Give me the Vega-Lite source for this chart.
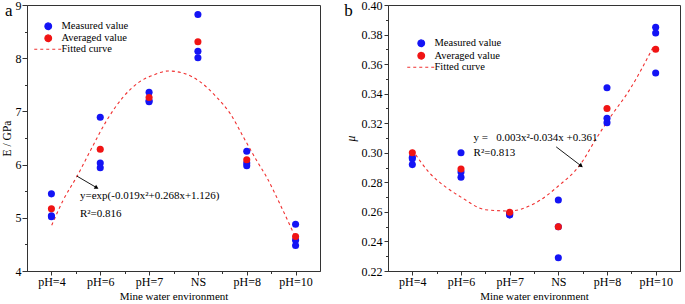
{
  "$schema": "https://vega.github.io/schema/vega-lite/v6.json",
  "padding": {"left": 0, "top": -2, "right": 0, "bottom": 0},
  "background": "white",
  "config": {
    "font": "Liberation Serif",
    "view": {"stroke": "#333", "strokeWidth": 1},
    "axis": {
      "grid": false, "domainColor": "#333", "tickColor": "#333", "labelOverlap": false,
      "labelFont": "Liberation Serif", "labelFontSize": 12, "labelColor": "#000",
      "titleFont": "Liberation Serif", "titleFontSize": 11.5, "titleFontWeight": "normal", "titleColor": "#000"
    },
    "legend": {"labelFont": "Liberation Serif", "labelFontSize": 10.5, "labelColor": "#000"},
    "concat": {"spacing": 22}
  },
  "datasets": {
    "pointsA": [
      {"x": 1, "series": "Measured value", "value": 5.45},
      {"x": 1, "series": "Measured value", "value": 5.04},
      {"x": 1, "series": "Measured value", "value": 5.02},
      {"x": 2, "series": "Measured value", "value": 6.89},
      {"x": 2, "series": "Measured value", "value": 6.03},
      {"x": 2, "series": "Measured value", "value": 5.94},
      {"x": 3, "series": "Measured value", "value": 7.36},
      {"x": 3, "series": "Measured value", "value": 7.2},
      {"x": 3, "series": "Measured value", "value": 7.18},
      {"x": 4, "series": "Measured value", "value": 8.82},
      {"x": 4, "series": "Measured value", "value": 8.13},
      {"x": 4, "series": "Measured value", "value": 8.01},
      {"x": 5, "series": "Measured value", "value": 6.25},
      {"x": 5, "series": "Measured value", "value": 6.03},
      {"x": 5, "series": "Measured value", "value": 5.98},
      {"x": 6, "series": "Measured value", "value": 4.88},
      {"x": 6, "series": "Measured value", "value": 4.58},
      {"x": 6, "series": "Measured value", "value": 4.48},
      {"x": 1, "series": "Averaged value", "value": 5.17},
      {"x": 2, "series": "Averaged value", "value": 6.29},
      {"x": 3, "series": "Averaged value", "value": 7.26},
      {"x": 4, "series": "Averaged value", "value": 8.31},
      {"x": 5, "series": "Averaged value", "value": 6.09},
      {"x": 6, "series": "Averaged value", "value": 4.65}
    ],
    "curveA": [
      {"x": 1.006, "value": 4.86}, {"x": 1.24, "value": 5.33}, {"x": 1.518, "value": 5.77},
      {"x": 1.825, "value": 6.31}, {"x": 2.132, "value": 6.83}, {"x": 2.47, "value": 7.27},
      {"x": 2.81, "value": 7.56}, {"x": 3.08, "value": 7.68}, {"x": 3.39, "value": 7.76},
      {"x": 3.7, "value": 7.72}, {"x": 4.04, "value": 7.56}, {"x": 4.38, "value": 7.27},
      {"x": 4.66, "value": 6.96}, {"x": 4.93, "value": 6.52}, {"x": 5.2, "value": 6.08},
      {"x": 5.41, "value": 5.76}, {"x": 5.71, "value": 5.2}, {"x": 5.99, "value": 4.65}
    ],
    "textA": [
      {"x": 1.585, "y": 5.41, "text": "y=exp(-0.019x²+0.268x+1.126)", "size": "eq"},
      {"x": 1.585, "y": 5.07, "text": "R²=0.816", "size": "eq"},
      {"x": 0.05, "y": 8.88, "text": "a", "size": "panel"}
    ],
    "arrowA": [{"x": 1.518, "y": 5.786, "x2": 1.927, "y2": 5.566, "angle": 30}],
    "pointsB": [
      {"x": 1, "series": "Measured value", "value": 0.297},
      {"x": 1, "series": "Measured value", "value": 0.296},
      {"x": 1, "series": "Measured value", "value": 0.292},
      {"x": 2, "series": "Measured value", "value": 0.3},
      {"x": 2, "series": "Measured value", "value": 0.287},
      {"x": 2, "series": "Measured value", "value": 0.2835},
      {"x": 3, "series": "Measured value", "value": 0.258},
      {"x": 3, "series": "Measured value", "value": 0.258},
      {"x": 3, "series": "Measured value", "value": 0.259},
      {"x": 4, "series": "Measured value", "value": 0.268},
      {"x": 4, "series": "Measured value", "value": 0.25},
      {"x": 4, "series": "Measured value", "value": 0.229},
      {"x": 5, "series": "Measured value", "value": 0.344},
      {"x": 5, "series": "Measured value", "value": 0.3233},
      {"x": 5, "series": "Measured value", "value": 0.3204},
      {"x": 6, "series": "Measured value", "value": 0.385},
      {"x": 6, "series": "Measured value", "value": 0.381},
      {"x": 6, "series": "Measured value", "value": 0.354},
      {"x": 1, "series": "Averaged value", "value": 0.3},
      {"x": 2, "series": "Averaged value", "value": 0.289},
      {"x": 3, "series": "Averaged value", "value": 0.2598},
      {"x": 4, "series": "Averaged value", "value": 0.25},
      {"x": 5, "series": "Averaged value", "value": 0.33},
      {"x": 6, "series": "Averaged value", "value": 0.37}
    ],
    "curveB": [
      {"x": 1.0, "value": 0.302}, {"x": 1.35, "value": 0.2865}, {"x": 1.7, "value": 0.2765},
      {"x": 2.0, "value": 0.27}, {"x": 2.5, "value": 0.2615}, {"x": 3.0, "value": 0.2606},
      {"x": 3.5, "value": 0.2655}, {"x": 4.0, "value": 0.2775}, {"x": 4.45, "value": 0.292},
      {"x": 4.78, "value": 0.3097}, {"x": 5.05, "value": 0.3233}, {"x": 5.46, "value": 0.3424},
      {"x": 5.97, "value": 0.3729}
    ],
    "textB": [
      {"x": 2.258, "y": 0.3101, "text": "y =\u00a0\u00a0 0.003x²-0.034x +0.361", "size": "eq"},
      {"x": 2.258, "y": 0.2999, "text": "R²=0.813", "size": "eq"},
      {"x": -0.397, "y": 0.3962, "text": "b", "size": "panel"}
    ],
    "arrowB": [{"x": 3.956, "y": 0.304, "x2": 4.469, "y2": 0.2911, "angle": 37}]
  },
  "resolve": {"scale": {"color": "independent"}, "legend": {"color": "independent"}},
  "hconcat": [
    {
      "width": 293,
      "height": 266,
      "encoding": {
        "x": {"type": "quantitative", "scale": {"domain": [0.5, 6.5], "nice": false},
          "axis": {"values": [1, 1.5, 2, 2.5, 3, 3.5, 4, 4.5, 5, 5.5, 6], "labelOverlap": false,
            "labelExpr": "datum.value % 1 !== 0 ? '' : ['pH=4','pH=6','pH=7','NS','pH=8','pH=10'][datum.value - 1]",
            "tickSize": {"condition": {"test": "datum.value % 1 !== 0", "value": 2.5}, "value": 4},
            "labelPadding": 1, "title": "Mine water environment", "titleFontSize": 11, "titlePadding": 3}},
        "y": {"type": "quantitative", "scale": {"domain": [4, 9], "nice": false, "zero": false},
          "axis": {"values": [4, 4.5, 5, 5.5, 6, 6.5, 7, 7.5, 8, 8.5, 9], "labelOverlap": false,
            "labelExpr": "datum.value % 1 !== 0 ? '' : format(datum.value, '.0f')",
            "tickSize": {"condition": {"test": "datum.value % 1 !== 0", "value": 2.5}, "value": 5},
            "labelPadding": 1, "title": "E / GPa", "titlePadding": 3}}
      },
      "layer": [
        {
          "data": {"name": "curveA"},
          "mark": {"type": "line", "interpolate": "monotone", "strokeDash": [3, 3], "strokeWidth": 1.1},
          "encoding": {
            "x": {"field": "x"},
            "y": {"field": "value"},
            "color": {"datum": "Fitted curve", "type": "nominal",
              "scale": {"domain": ["Measured value", "Averaged value", "Fitted curve"], "range": ["#1414f5", "#f01414", "#f03030"]},
              "legend": {
                "orient": "none", "legendX": 16, "legendY": 16, "title": null, "padding": 0,
                "labelFont": "Liberation Serif", "labelFontSize": 10.5, "labelColor": "#000",
                "symbolSize": 784, "labelOffset": 8, "rowPadding": 0,
                "encode": {"symbols": {"update": {
                  "shape": {"signal": "datum.value === 'Fitted curve' ? 'stroke' : 'circle'"},
                  "size": {"signal": "datum.value === 'Fitted curve' ? 784 : 45"},
                  "fill": {"signal": "datum.value === 'Fitted curve' ? 'transparent' : (datum.value === 'Measured value' ? '#1414f5' : '#f01414')"},
                  "stroke": {"signal": "datum.value === 'Fitted curve' ? '#f03030' : 'transparent'"},
                  "strokeDash": {"signal": "datum.value === 'Fitted curve' ? [3, 3] : [1, 0]"},
                  "strokeWidth": {"value": 1.1},
                  "opacity": {"value": 1}
                }}}
              }}
          }
        },
        {
          "data": {"name": "pointsA"},
          "mark": {"type": "point", "filled": true, "size": 50, "opacity": 1},
          "encoding": {
            "x": {"field": "x"},
            "y": {"field": "value"},
            "color": {"field": "series", "type": "nominal",
              "legend": {
                "orient": "none", "legendX": 16, "legendY": 16, "title": null, "padding": 0,
                "labelFont": "Liberation Serif", "labelFontSize": 10.5, "labelColor": "#000",
                "symbolSize": 784, "labelOffset": 8, "rowPadding": 0,
                "encode": {"symbols": {"update": {
                  "shape": {"signal": "datum.value === 'Fitted curve' ? 'stroke' : 'circle'"},
                  "size": {"signal": "datum.value === 'Fitted curve' ? 784 : 45"},
                  "fill": {"signal": "datum.value === 'Fitted curve' ? 'transparent' : (datum.value === 'Measured value' ? '#1414f5' : '#f01414')"},
                  "stroke": {"signal": "datum.value === 'Fitted curve' ? '#f03030' : 'transparent'"},
                  "strokeDash": {"signal": "datum.value === 'Fitted curve' ? [3, 3] : [1, 0]"},
                  "strokeWidth": {"value": 1.1},
                  "opacity": {"value": 1}
                }}}
              }}
          }
        },
        {
          "data": {"name": "arrowA"},
          "mark": {"type": "rule", "color": "#000", "strokeWidth": 0.9},
          "encoding": {
            "x": {"field": "x"}, "y": {"field": "y"},
            "x2": {"field": "x2"}, "y2": {"field": "y2"}
          }
        },
        {
          "data": {"name": "arrowA"},
          "mark": {"type": "point", "shape": "triangle-right", "filled": true, "color": "#000", "size": 22, "opacity": 1},
          "encoding": {
            "x": {"field": "x2"}, "y": {"field": "y2"},
            "angle": {"field": "angle", "type": "quantitative", "scale": null}
          }
        },
        {
          "data": {"name": "textA"},
          "mark": {"type": "text", "align": "left", "baseline": "middle", "font": "Liberation Serif", "color": "#000"},
          "encoding": {
            "x": {"field": "x"}, "y": {"field": "y"},
            "text": {"field": "text"},
            "size": {"field": "size", "type": "nominal", "scale": {"domain": ["eq", "panel"], "range": [11, 17]}, "legend": null}
          }
        }
      ]
    },
    {
      "width": 292,
      "height": 266,
      "encoding": {
        "x": {"type": "quantitative", "scale": {"domain": [0.5, 6.5], "nice": false},
          "axis": {"values": [1, 1.5, 2, 2.5, 3, 3.5, 4, 4.5, 5, 5.5, 6], "labelOverlap": false,
            "labelExpr": "datum.value % 1 !== 0 ? '' : ['pH=4','pH=6','pH=7','NS','pH=8','pH=10'][datum.value - 1]",
            "tickSize": {"condition": {"test": "datum.value % 1 !== 0", "value": 2.5}, "value": 4},
            "labelPadding": 1, "title": "Mine water environment", "titleFontSize": 11, "titlePadding": 3}},
        "y": {"type": "quantitative", "scale": {"domain": [0.22, 0.4], "nice": false, "zero": false},
          "axis": {"values": [0.22, 0.23, 0.24, 0.25, 0.26, 0.27, 0.28, 0.29, 0.3, 0.31, 0.32, 0.33, 0.34, 0.35, 0.36, 0.37, 0.38, 0.39, 0.4],
            "labelOverlap": false, "labelBound": false, "labelSeparation": 0,
            "labelExpr": "round(datum.value * 100) % 2 === 1 ? '' : format(datum.value, '.2f')",
            "tickSize": {"condition": {"test": "round(datum.value * 100) % 2 === 1", "value": 2.5}, "value": 4},
            "labelPadding": 2, "title": "μ", "titleFontStyle": "italic", "titlePadding": 5}}
      },
      "layer": [
        {
          "data": {"name": "curveB"},
          "mark": {"type": "line", "interpolate": "monotone", "strokeDash": [3, 3], "strokeWidth": 1.1},
          "encoding": {
            "x": {"field": "x"},
            "y": {"field": "value"},
            "color": {"datum": "Fitted curve", "type": "nominal",
              "scale": {"domain": ["Measured value", "Averaged value", "Fitted curve"], "range": ["#1414f5", "#f01414", "#f03030"]},
              "legend": {
                "orient": "none", "legendX": 28, "legendY": 33, "title": null, "padding": 0,
                "labelFont": "Liberation Serif", "labelFontSize": 10.5, "labelColor": "#000",
                "symbolSize": 784, "labelOffset": 8, "rowPadding": 0.5,
                "encode": {"symbols": {"update": {
                  "shape": {"signal": "datum.value === 'Fitted curve' ? 'stroke' : 'circle'"},
                  "size": {"signal": "datum.value === 'Fitted curve' ? 784 : 45"},
                  "fill": {"signal": "datum.value === 'Fitted curve' ? 'transparent' : (datum.value === 'Measured value' ? '#1414f5' : '#f01414')"},
                  "stroke": {"signal": "datum.value === 'Fitted curve' ? '#f03030' : 'transparent'"},
                  "strokeDash": {"signal": "datum.value === 'Fitted curve' ? [3, 3] : [1, 0]"},
                  "strokeWidth": {"value": 1.1},
                  "opacity": {"value": 1}
                }}}
              }}
          }
        },
        {
          "data": {"name": "pointsB"},
          "mark": {"type": "point", "filled": true, "size": 50, "opacity": 1},
          "encoding": {
            "x": {"field": "x"},
            "y": {"field": "value"},
            "color": {"field": "series", "type": "nominal",
              "legend": {
                "orient": "none", "legendX": 28, "legendY": 33, "title": null, "padding": 0,
                "labelFont": "Liberation Serif", "labelFontSize": 10.5, "labelColor": "#000",
                "symbolSize": 784, "labelOffset": 8, "rowPadding": 0.5,
                "encode": {"symbols": {"update": {
                  "shape": {"signal": "datum.value === 'Fitted curve' ? 'stroke' : 'circle'"},
                  "size": {"signal": "datum.value === 'Fitted curve' ? 784 : 45"},
                  "fill": {"signal": "datum.value === 'Fitted curve' ? 'transparent' : (datum.value === 'Measured value' ? '#1414f5' : '#f01414')"},
                  "stroke": {"signal": "datum.value === 'Fitted curve' ? '#f03030' : 'transparent'"},
                  "strokeDash": {"signal": "datum.value === 'Fitted curve' ? [3, 3] : [1, 0]"},
                  "strokeWidth": {"value": 1.1},
                  "opacity": {"value": 1}
                }}}
              }}
          }
        },
        {
          "data": {"name": "arrowB"},
          "mark": {"type": "rule", "color": "#000", "strokeWidth": 0.9},
          "encoding": {
            "x": {"field": "x"}, "y": {"field": "y"},
            "x2": {"field": "x2"}, "y2": {"field": "y2"}
          }
        },
        {
          "data": {"name": "arrowB"},
          "mark": {"type": "point", "shape": "triangle-right", "filled": true, "color": "#000", "size": 22, "opacity": 1},
          "encoding": {
            "x": {"field": "x2"}, "y": {"field": "y2"},
            "angle": {"field": "angle", "type": "quantitative", "scale": null}
          }
        },
        {
          "data": {"name": "textB"},
          "mark": {"type": "text", "align": "left", "baseline": "middle", "font": "Liberation Serif", "color": "#000"},
          "encoding": {
            "x": {"field": "x"}, "y": {"field": "y"},
            "text": {"field": "text"},
            "size": {"field": "size", "type": "nominal", "scale": {"domain": ["eq", "panel"], "range": [11, 17]}, "legend": null}
          }
        }
      ]
    }
  ]
}
